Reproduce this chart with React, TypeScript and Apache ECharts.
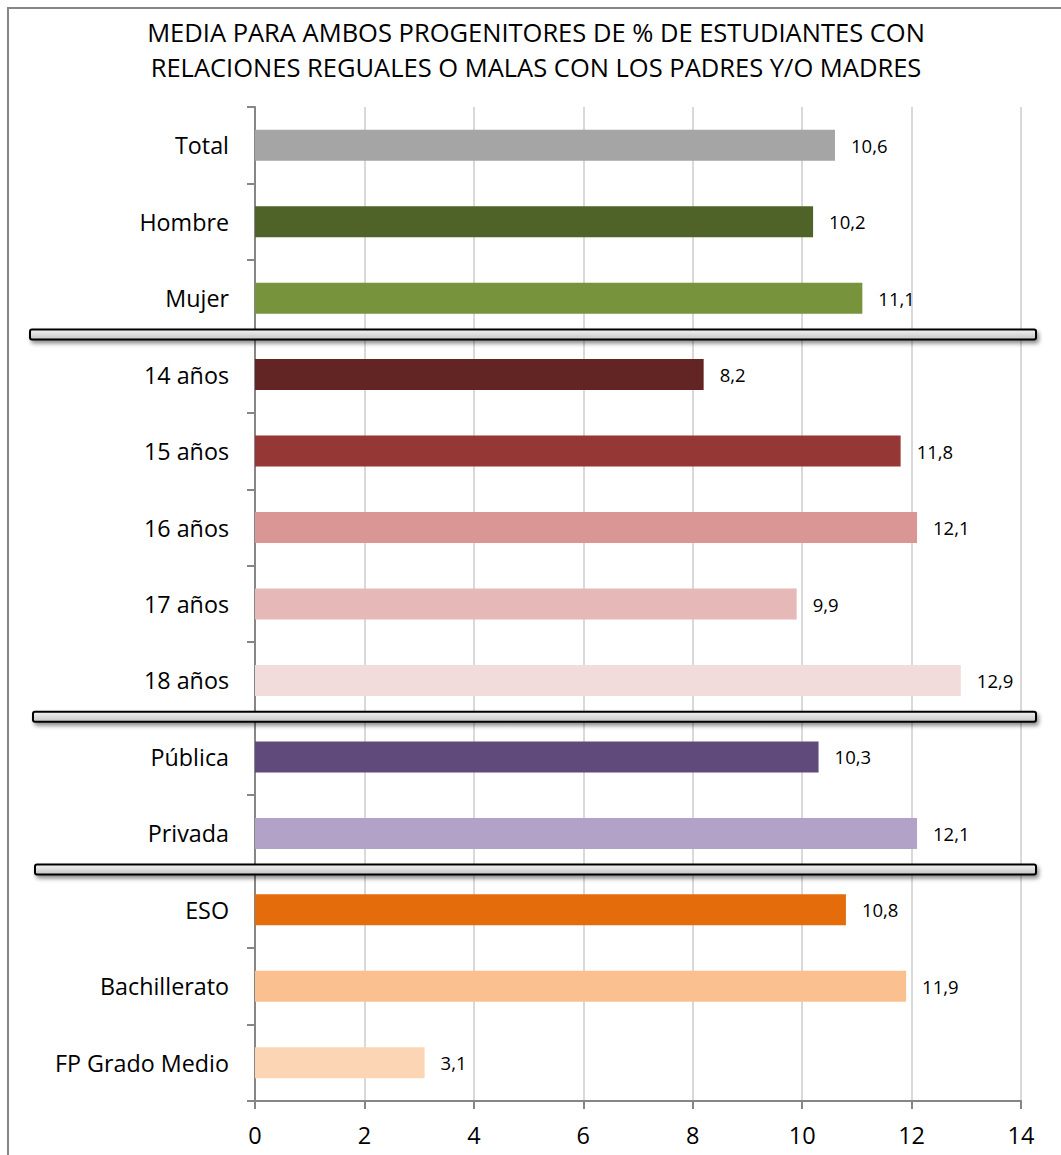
import React, { useEffect, useRef } from "react";
import * as echarts from "echarts";

const categories = [
  "Total", "Hombre", "Mujer",
  "14 años", "15 años", "16 años", "17 años", "18 años",
  "Pública", "Privada",
  "ESO", "Bachillerato", "FP Grado Medio",
];
const values = [10.6, 10.2, 11.1, 8.2, 11.8, 12.1, 9.9, 12.9, 10.3, 12.1, 10.8, 11.9, 3.1];
const barColors = [
  "#A5A5A5", "#4F6228", "#77933C",
  "#632523", "#953735", "#D99694", "#E6B9B8", "#F2DCDB",
  "#604A7B", "#B3A2C7",
  "#E46C0A", "#FAC090", "#FCD5B5",
];
const xTicks = [0, 2, 4, 6, 8, 10, 12, 14];
const separatorsAfter = [2, 7, 9];
const title = "MEDIA PARA AMBOS PROGENITORES DE % DE ESTUDIANTES CON\nRELACIONES REGUALES O MALAS CON LOS PADRES Y/O MADRES";

const FONT = "Open Sans";

export default function App() {
  const ref = useRef<HTMLDivElement>(null);
  useEffect(() => {
    const chart = echarts.init(ref.current!, null, { renderer: "svg" });
    const gridLeft = 255, gridTop = 107, gridRight = 40, gridBottom = 54;
    const option: any = {
      animation: false,
      backgroundColor: "#fff",
      title: {
        text: title,
        left: 536,
        top: 14,
        padding: 0,
        textAlign: "center",
        textStyle: { fontFamily: FONT, fontSize: 25.5, fontWeight: "normal", color: "#000", lineHeight: 35 },
      },
      grid: { left: gridLeft, top: gridTop, right: gridRight, bottom: gridBottom, containLabel: false },
      xAxis: {
        type: "value",
        min: xTicks[0],
        max: xTicks[xTicks.length - 1],
        interval: 2,
        axisLine: { show: true, lineStyle: { color: "#868686", width: 2 } },
        axisTick: { show: true, length: 8, lineStyle: { color: "#868686", width: 2 } },
        axisLabel: { fontFamily: FONT, fontSize: 23.5, color: "#000", margin: 22 },
        splitLine: { show: true, lineStyle: { color: "#D9D9D9", width: 2 } },
      },
      yAxis: {
        type: "category",
        data: categories,
        inverse: true,
        axisLine: { show: true, lineStyle: { color: "#868686", width: 2 } },
        axisTick: { show: true, length: 8, lineStyle: { color: "#868686", width: 2 } },
        axisLabel: { fontFamily: FONT, fontSize: 23.3, color: "#000", margin: 26 },
      },
      series: [
        {
          type: "bar",
          data: values.map((v, i) => ({ value: v, itemStyle: { color: barColors[i] } })),
          barWidth: 31,
          label: {
            show: true,
            position: "right",
            distance: 16,
            fontFamily: FONT,
            fontSize: 18.5,
            color: "#000",
            formatter: (p: any) => String(p.value).replace(".", ","),
          },
        },
      ],
      graphic: [
        { type: "line", shape: { x1: 7, y1: 8, x2: 1061, y2: 8 }, style: { stroke: "#868686", lineWidth: 2 } },
        { type: "line", shape: { x1: 8, y1: 7, x2: 8, y2: 1155 }, style: { stroke: "#868686", lineWidth: 2 } },
      ],
    };
    chart.setOption(option);
    const band = (1155 - gridTop - gridBottom) / categories.length;
    const sepX = [30, 33, 35];
    const seps = separatorsAfter.map((idx, k) => {
      const y = gridTop + (idx + 1) * band - 2;
      return {
        type: "rect",
        z: 100,
        shape: { x: sepX[k], y: y - 5, width: 1036 - sepX[k], height: 10, r: 2 },
        style: {
          fill: new echarts.graphic.LinearGradient(0, 0, 0, 1, [
            { offset: 0, color: "#F4F4F4" },
            { offset: 1, color: "#C4C4C4" },
          ]),
          stroke: "#000",
          lineWidth: 2,
          shadowBlur: 4,
          shadowOffsetX: 2,
          shadowOffsetY: 3,
          shadowColor: "rgba(0,0,0,0.45)",
        },
      };
    });
    chart.setOption({ graphic: [...option.graphic, ...seps] });
    return () => chart.dispose();
  }, []);
  return <div ref={ref} style={{ width: 1061, height: 1155, position: "absolute", left: 0, top: 0 }} />;
}
